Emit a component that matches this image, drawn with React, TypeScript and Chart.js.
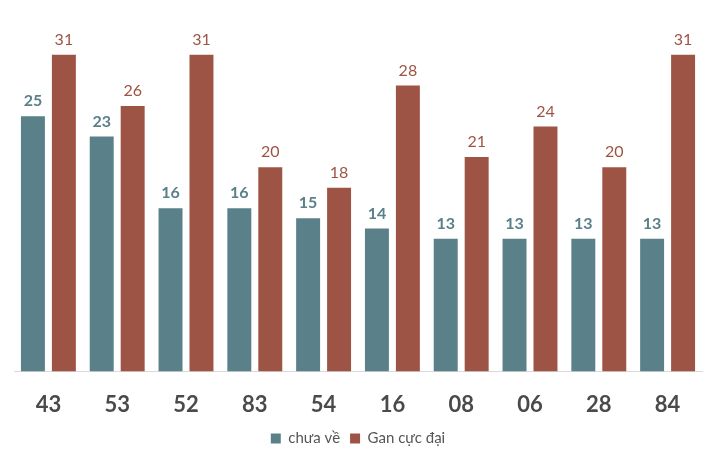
import React, { useEffect, useRef } from "react";
import { Chart, registerables } from "chart.js";

Chart.register(...registerables);

const categories = ["43", "53", "52", "83", "54", "16", "08", "06", "28", "84"];
const chuaVe = [25, 23, 16, 16, 15, 14, 13, 13, 13, 13];
const ganCucDai = [31, 26, 31, 20, 18, 28, 21, 24, 20, 31];

const TEAL = "#5a808a";
const RED = "#9e5445";
const FONT = "Lato, 'Open Sans', sans-serif";

const valueLabels = {
  id: "valueLabels",
  afterDatasetsDraw(chart: any) {
    const ctx = chart.ctx;
    chart.data.datasets.forEach((ds: any, i: number) => {
      const meta = chart.getDatasetMeta(i);
      meta.data.forEach((bar: any, j: number) => {
        ctx.save();
        ctx.font = (i === 0 ? "bold " : "") + "16px " + FONT;
        ctx.fillStyle = i === 0 ? TEAL : RED;
        ctx.textAlign = "center";
        ctx.textBaseline = "bottom";
        ctx.fillText(String(ds.data[j]), bar.x, bar.y - 7);
        ctx.restore();
      });
    });
  },
};

export default function App() {
  const ref = useRef<HTMLCanvasElement>(null);
  useEffect(() => {
    const chart = new Chart(ref.current!, {
      type: "bar",
      data: {
        labels: categories,
        datasets: [
          { label: "chưa về", data: chuaVe, backgroundColor: TEAL },
          { label: "Gan cực đại", data: ganCucDai, backgroundColor: RED },
        ],
      },
      options: {
        animation: false,
        responsive: false,
        maintainAspectRatio: false,
        layout: { padding: { top: 14, left: 14, right: 14, bottom: 6 } },
        datasets: {
          bar: { categoryPercentage: 0.9, barPercentage: 0.774 },
        } as any,
        scales: {
          x: {
            grid: { display: false, drawTicks: false },
            border: { display: true, color: "#d9d9d9", width: 1 },
            ticks: {
              color: "#4a4a4a",
              font: { family: FONT, size: 22, weight: "bold" },
              padding: 20,
            },
            afterFit(scale: any) {
              scale.height -= 17;
            },
          },
          y: {
            display: false,
            min: 0,
            max: 35,
          },
        },
        plugins: {
          legend: {
            position: "bottom",
            labels: {
              color: "#555",
              font: { family: FONT, size: 15 },
              boxWidth: 10,
              boxHeight: 10,
              padding: 10,
            },
          },
          tooltip: { enabled: false },
        },
      },
      plugins: [valueLabels],
    });
    return () => chart.destroy();
  }, []);
  return (
    <div style={{ position: "absolute", left: 0, top: 0, width: 716, height: 462 }}>
      <canvas ref={ref} width={716} height={462} style={{ width: 716, height: 462 }} />
    </div>
  );
}
